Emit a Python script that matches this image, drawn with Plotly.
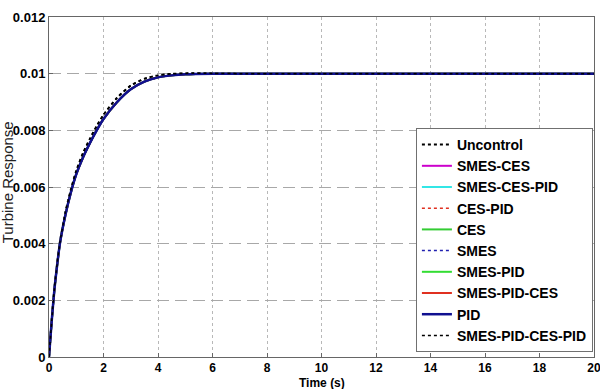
import plotly.graph_objects as go

# time samples (s)
time_s = [0, 0.1, 0.2, 0.3, 0.4, 0.6, 0.8, 1.0, 1.25, 1.5, 1.75, 2.0, 2.5, 3.0, 3.5, 4.0, 4.5, 5.0, 6.0, 7.0, 10.0, 15.0, 20.0]
# main (controlled) response
resp_ctrl = [0, 0.00128, 0.00240, 0.00325, 0.0040, 0.0050, 0.0058, 0.00645, 0.00705, 0.00755, 0.0080, 0.0084, 0.0090, 0.00945, 0.00972, 0.00987, 0.00994, 0.00998, 0.0100, 0.0100, 0.0100, 0.0100, 0.0100]
# uncontrolled response (slightly faster)
resp_unctrl = [0, 0.00129, 0.00243, 0.00329, 0.00405, 0.0051, 0.0059, 0.00657, 0.00720, 0.00770, 0.00815, 0.00855, 0.00915, 0.00958, 0.00982, 0.00994, 0.00999, 0.01001, 0.01001, 0.0100, 0.0100, 0.0100, 0.0100]

series_names = ["Uncontrol", "SMES-CES", "SMES-CES-PID", "CES-PID", "CES", "SMES",
                "SMES-PID", "SMES-PID-CES", "PID", "SMES-PID-CES-PID"]
series_colors = ["#000000", "#cc00cc", "#33e6e6", "#e03020", "#33cc33", "#2020b0",
                 "#33dd33", "#e03020", "#101090", "#000000"]
series_dash = ["dot", "solid", "solid", "dot", "solid", "dot",
               "solid", "solid", "solid", "dot"]
series_width = [2, 2, 2, 1.5, 2, 1.5, 2, 2, 2.5, 1.5]
series_data = [resp_unctrl, resp_ctrl, resp_ctrl, resp_ctrl, resp_ctrl, resp_ctrl,
               resp_ctrl, resp_ctrl, resp_ctrl, resp_unctrl]

x_ticks = [0, 2, 4, 6, 8, 10, 12, 14, 16, 18, 20]
y_ticks = [0, 0.002, 0.004, 0.006, 0.008, 0.01, 0.012]
y_ticktext = ["0", "0.002", "0.004", "0.006", "0.008", "0.01", "0.012"]

fig = go.Figure()
for name, col, dash, w, ys in zip(series_names, series_colors, series_dash, series_width, series_data):
    fig.add_trace(go.Scatter(x=time_s, y=ys, mode="lines", name=name, legendgroup=name,
                             line=dict(color=col, dash=dash, width=w, shape="spline", smoothing=0.6)))

font_fam = "Liberation Sans, Arial, sans-serif"
fig.update_layout(
    width=600, height=389,
    margin=dict(l=49, r=6, t=17, b=32, autoexpand=False),
    paper_bgcolor="white", plot_bgcolor="white",
    font=dict(family=font_fam, size=13, color="black"),
    showlegend=True,
    legend=dict(x=0.998, y=0.6735, xanchor="right", yanchor="top",
                bgcolor="white", bordercolor="#707070", borderwidth=1,
                font=dict(family=font_fam, size=14, color="black", weight="bold"),
                itemwidth=30, tracegroupgap=4, traceorder="normal"),
    annotations=[
        dict(text="Turbine Response", textangle=-90, xref="paper", yref="paper",
             x=-0.0745, y=0.515, xanchor="center", yanchor="middle", showarrow=False,
             font=dict(family=font_fam, size=15, color="#222222")),
        dict(text="Time (s)", xref="paper", yref="paper",
             x=0.5, y=-0.077, xanchor="center", yanchor="middle", showarrow=False,
             font=dict(family=font_fam, size=12, color="black", weight="bold")),
    ],
)
fig.update_xaxes(range=[0, 20], tickvals=x_ticks, showgrid=True, gridcolor="#b8b8b8",
                 griddash="dot", gridwidth=1, zeroline=False, showline=True,
                 linecolor="#666666", mirror=True, ticks="inside", ticklen=4,
                 tickcolor="#666666", automargin=False, ticklabeloverflow="allow",
                 tickfont=dict(size=12, weight="bold"))
fig.update_yaxes(range=[0, 0.012], tickvals=y_ticks, ticktext=y_ticktext, showgrid=True,
                 gridcolor="#a8a8a8", griddash="12px,6px", gridwidth=1, zeroline=False,
                 showline=True, linecolor="#666666", mirror=True, ticks="inside",
                 ticklen=4, tickcolor="#666666", automargin=False, ticklabeloverflow="allow",
                 tickfont=dict(size=13, weight="bold"))

fig.write_html("out.html", config={"displayModeBar": False},
               post_script="document.body.style.margin='0px';")
